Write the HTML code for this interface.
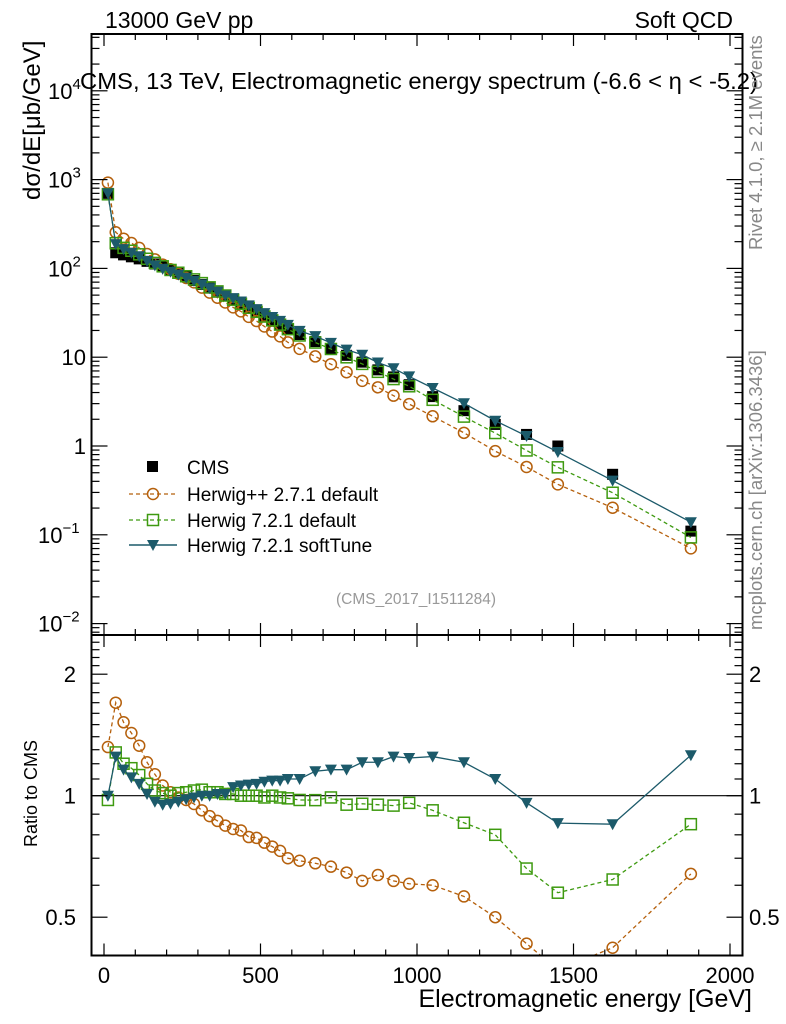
<!DOCTYPE html>
<html><head><meta charset="utf-8">
<style>
html,body{margin:0;padding:0;background:#fff;}
svg{display:block;font-family:"Liberation Sans",Arial,sans-serif;}
</style></head>
<body>
<svg id="chart" width="786" height="1024" viewBox="0 0 786 1024" xmlns="http://www.w3.org/2000/svg">
<g id="marks"></g>
<g id="axes"></g>
<text x="105" y="28" font-size="23">13000 GeV pp</text>
<text x="733" y="28" font-size="23" text-anchor="end">Soft QCD</text>
<text x="80" y="89" font-size="23" textLength="678" lengthAdjust="spacingAndGlyphs">CMS, 13 TeV, Electromagnetic energy spectrum (-6.6 &lt; η &lt; -5.2)</text>
<text transform="translate(762,250) rotate(-90)" font-size="18.5" fill="#888">Rivet 4.1.0, ≥ 2.1M events</text>
<text transform="translate(762,630) rotate(-90)" font-size="18.5" fill="#888">mcplots.cern.ch [arXiv:1306.3436]</text>
<text transform="translate(40,200) rotate(-90)" font-size="24">dσ/dE[μb/GeV]</text>
<text transform="translate(37,847) rotate(-90)" font-size="18">Ratio to CMS</text>
<text x="752" y="1007" font-size="25" text-anchor="end">Electromagnetic energy [GeV]</text>
<text x="416" y="604" font-size="15.5" fill="#999" text-anchor="middle">(CMS_2017_I1511284)</text>
<g>
  <rect x="147" y="461" width="11" height="11" fill="#000"/>
  <text x="187" y="474" font-size="19">CMS</text>
  <line x1="129" y1="494" x2="177" y2="494" stroke="#b5600c" stroke-width="1.3" stroke-dasharray="4,3"/>
  <circle cx="153" cy="494" r="5.5" fill="none" stroke="#b5600c" stroke-width="1.5"/>
  <text x="187" y="501" font-size="19">Herwig++ 2.7.1 default</text>
  <line x1="129" y1="520" x2="177" y2="520" stroke="#3e9a10" stroke-width="1.3" stroke-dasharray="4,3"/>
  <rect x="147.5" y="514.5" width="11" height="11" fill="none" stroke="#3e9a10" stroke-width="1.5"/>
  <text x="187" y="527" font-size="19">Herwig 7.2.1 default</text>
  <line x1="129" y1="545" x2="177" y2="545" stroke="#1c5a6a" stroke-width="1.5"/>
  <polygon points="147,540 159,540 153,551" fill="#1c5a6a"/>
  <text x="187" y="552" font-size="19">Herwig 7.2.1 softTune</text>
</g>
</svg>
<script>
const energies = [12.5,37.5,62.5,87.5,112.5,137.5,162.5,187.5,212.5,237.5,262.5,287.5,312.5,337.5,362.5,387.5,412.5,437.5,462.5,487.5,512.5,537.5,562.5,587.5,625,675,725,775,825,875,925,975,1050,1150,1250,1350,1450,1625,1875];
const cmsValues = [700,150,142,135,128,120,112,104,96,88,80,73,66,60,54,49,44,40,36,32.5,29,26,23.5,21,18,15,12.5,10.5,8.8,7.2,6.0,4.9,3.6,2.5,1.75,1.35,1.0,0.48,0.11];
const ratioHerwigpp = [1.32,1.70,1.52,1.43,1.33,1.21,1.13,1.06,1.02,0.99,0.976,0.954,0.92,0.89,0.866,0.843,0.827,0.82,0.79,0.786,0.765,0.748,0.73,0.70,0.69,0.68,0.667,0.645,0.615,0.636,0.615,0.605,0.60,0.563,0.50,0.43,0.37,0.42,0.64];
const ratioHerwig7 = [0.976,1.28,1.20,1.17,1.125,1.07,1.03,1.015,1.0,1.015,1.02,1.03,1.035,1.02,1.02,1.01,1.01,1.0,1.0,1.0,0.99,1.0,0.99,0.985,0.976,0.975,0.99,0.95,0.955,0.95,0.945,0.96,0.92,0.857,0.80,0.66,0.575,0.62,0.85];
const ratioSoftTune = [1.0,1.25,1.16,1.11,1.07,1.01,0.966,0.95,0.955,0.966,0.98,0.99,1.0,1.0,1.01,1.01,1.05,1.06,1.065,1.07,1.083,1.09,1.09,1.1,1.1,1.15,1.16,1.16,1.21,1.21,1.25,1.24,1.25,1.21,1.10,0.96,0.855,0.85,1.26];
const xTickLabels = ["0","500","1000","1500","2000"];
const yTickLabels = ["10^-2","10^-1","1","10","10^2","10^3","10^4"];
const ratioTickLabels = ["0.5","1","2"];

const NS="http://www.w3.org/2000/svg";
const L=91.5,R=742.5,T=34,MID=635,B=955.5;
const X=e=>104+e*0.313;
const Y=v=>446-88.8*Math.log10(v);
const YR=r=>795.7-121.5*Math.log2(r);
const marks=document.getElementById('marks'), axes=document.getElementById('axes');
function mk(tag,attrs,parent){const el=document.createElementNS(NS,tag);for(const k in attrs)el.setAttribute(k,attrs[k]);(parent||marks).appendChild(el);return el;}

const defs=mk('defs',{},document.getElementById('chart'));
const c1=mk('clipPath',{id:'cm'},defs);mk('rect',{x:L,y:T,width:R-L,height:MID-T},c1);
const c2=mk('clipPath',{id:'cr'},defs);mk('rect',{x:L,y:MID,width:R-L,height:B-MID},c2);
const gMain=mk('g',{'clip-path':'url(#cm)'});


const gRatio=mk('g',{'clip-path':'url(#cr)'});



const ul=mk('line',{x1:L,x2:R,y1:YR(1),y2:YR(1),stroke:'#000','stroke-width':1.2},gRatio);



const series=[
 {name:'herwigpp',ratio:ratioHerwigpp,color:'#b5600c',dash:'4,3',marker:'circle'},
 {name:'herwig7-default',ratio:ratioHerwig7,color:'#3e9a10',dash:'4,3',marker:'square'},
 {name:'herwig7-softtune',ratio:ratioSoftTune,color:'#1c5a6a',dash:'',marker:'tri'}
];
function marker(type,cx,cy,color,g,nm){
  let el;
  if(type==='circle') el=mk('circle',{cx:cx,cy:cy,r:5.5,fill:'none',stroke:color,'stroke-width':1.5},g);
  else if(type==='square') el=mk('rect',{x:cx-5.5,y:cy-5.5,width:11,height:11,fill:'none',stroke:color,'stroke-width':1.5},g);
  else if(type==='tri') el=mk('polygon',{points:`${cx-6},${cy-5} ${cx+6},${cy-5} ${cx},${cy+6}`,fill:color},g);
  else el=mk('rect',{x:cx-5.5,y:cy-5.5,width:11,height:11,fill:'#000'},g);
  
  
}
energies.forEach((e,i)=>marker('cms',X(e),Y(cmsValues[i]),'#000',gMain,'cms-point'));
series.forEach(s=>{
  const mainPts=energies.map((e,i)=>X(e)+','+Y(cmsValues[i]*s.ratio[i])).join(' ');
  const ratPts=energies.map((e,i)=>X(e)+','+YR(s.ratio[i])).join(' ');
  const a={fill:'none',stroke:s.color,'stroke-width':1.3};if(s.dash)a['stroke-dasharray']=s.dash;
  const l1=mk('polyline',Object.assign({points:mainPts},a),gMain);
  
  
  const l2=mk('polyline',Object.assign({points:ratPts},a),gRatio);
  
  
  energies.forEach((e,i)=>{
    marker(s.marker,X(e),Y(cmsValues[i]*s.ratio[i]),s.color,gMain,s.name+'-point');
    marker(s.marker,X(e),YR(s.ratio[i]),s.color,gRatio,s.name+'-ratio-point');
  });
});

function line(x1,y1,x2,y2,w){return mk('line',{x1,y1,x2,y2,stroke:'#000','stroke-width':w||1.2},axes);}
const f1=mk('rect',{x:L,y:T,width:R-L,height:MID-T,fill:'none',stroke:'#000','stroke-width':2},axes);


const f2=mk('rect',{x:L,y:MID,width:R-L,height:B-MID,fill:'none',stroke:'#000','stroke-width':2},axes);


for(let e=0;e<=2000;e+=100){
  const maj=e%500===0, len=maj?12:6, x=X(e);
  [T,MID,B].forEach(y0=>{
    if(y0===T||y0===MID){line(x,y0,x,y0+len);}
    if(y0===MID||y0===B){line(x,y0,x,y0-len);}
  });
}
xTickLabels.forEach(t=>{
  const tx=mk('text',{x:X(+t),y:983,'font-size':22,'text-anchor':'middle'},axes);tx.textContent=t;
  
  
});
for(let d=-3;d<=4;d++){
  for(let m=1;m<10;m++){
    const v=m*Math.pow(10,d), y=Y(v);
    if(y<T||y>MID)continue;
    const len=m===1?16:8;
    line(L,y,L+len,y);line(R,y,R-len,y);
  }
}
yTickLabels.forEach(t=>{
  const p=t.split('^'); let v=p.length>1?Math.pow(10,+p[1]):+t;
  const tx=mk('text',{x:86,y:Y(v)+8,'font-size':22,'text-anchor':'end'},axes);
  
  
  if(p.length>1){tx.textContent='10';const s=mk('tspan',{dy:-10,'font-size':15},tx);s.textContent=p[1].replace('-','−');tx.setAttribute('x',p[1].length>1?38:48);tx.setAttribute('text-anchor','start');}
  else tx.textContent=t;
});
[0.4,0.5,0.6,0.7,0.8,0.9,1,1.1,1.2,1.3,1.4,1.5,1.6,1.7,1.8,1.9,2,2.1,2.2,2.3,2.4].forEach(r=>{
  const y=YR(r); if(y<MID||y>B)return;
  const maj=(r===0.5||r===1||r===2); const len=maj?16:8;
  line(L,y,L+len,y);line(R,y,R-len,y);
});
ratioTickLabels.forEach(t=>{
  const y=YR(+t)+8;
  const a=mk('text',{x:76,y:y,'font-size':22,'text-anchor':'end'},axes);a.textContent=t;
  
  
  const b=mk('text',{x:749,y:y,'font-size':22},axes);b.textContent=t;
  
  
});
</script>
</body></html>
